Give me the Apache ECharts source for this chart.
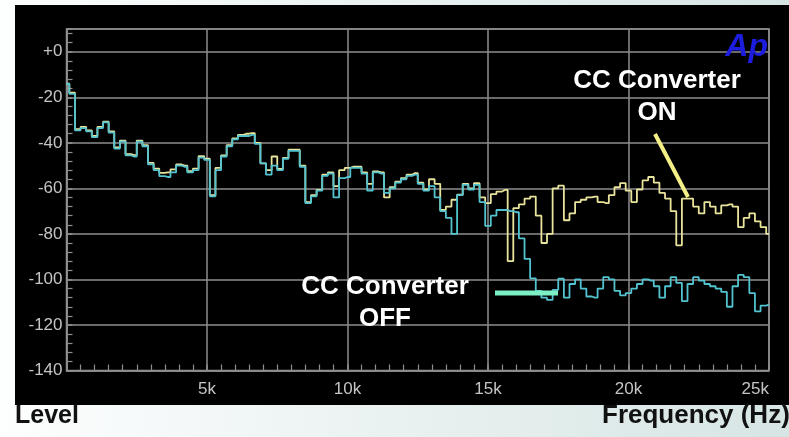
<!DOCTYPE html>
<html><head><meta charset="utf-8">
<script src="https://cdn.jsdelivr.net/npm/echarts@6/dist/echarts.min.js"></script>
<style>html,body{margin:0;padding:0;background:#fff}#c{width:789px;height:437px}</style>
</head><body><div id="c"></div>
<script>
// Frequency (Hz)
const freqs = [
  0,200,400,600,800,1000,1200,1400,1600,1800,
  2000,2200,2400,2600,2800,3000,3200,3400,3600,3800,
  4000,4200,4400,4600,4800,5000,5200,5400,5600,5800,
  6000,6200,6400,6600,6800,7000,7200,7400,7600,7800,
  8000,8200,8400,8600,8800,9000,9200,9400,9600,9800,
  10000,10200,10400,10600,10800,11000,11200,11400,11600,11800,
  12000,12200,12400,12600,12800,13000,13200,13400,13600,13800,
  14000,14200,14400,14600,14800,15000,15200,15400,15600,15800,
  16000,16200,16400,16600,16800,17000,17200,17400,17600,17800,
  18000,18200,18400,18600,18800,19000,19200,19400,19600,19800,
  20000,20200,20400,20600,20800,21000,21200,21400,21600,21800,
  22000,22200,22400,22600,22800,23000,23200,23400,23600,23800,
  24000,24200,24400,24600,24800,25000
];
// Level (dB) with CC Converter ON (yellow)
const levelOn = [
  -14,-18,-34,-33,-34.5,-37,-33,-30.7,-35,-42,
  -39,-45,-45.4,-39,-41,-48.8,-51.3,-53.2,-53,-51.7,
  -49.5,-50,-52.4,-51.3,-45.8,-47,-63,-51,-45.5,-41,
  -38,-36.5,-36,-35.7,-40,-49,-52,-46,-51.5,-46.6,
  -43,-43,-50,-66,-63,-60.7,-54,-53,-59,-52,
  -51,-50.5,-50.5,-53,-58,-52.6,-53,-64,-59.5,-57,
  -55.5,-54,-53.3,-57.5,-60.5,-56,-58,-69.5,-68,-65,
  -62.8,-58,-60,-57.7,-64,-66.5,-62.5,-61.4,-60.7,-92,
  -68.7,-67,-64.5,-63.6,-72,-84,-80,-60,-58.8,-74,
  -71,-66,-65,-64,-63.6,-66,-66.5,-63,-59.5,-57.7,
  -61,-66,-60.5,-56.5,-55,-57.5,-62,-64.5,-70,-85,
  -64.5,-64.5,-68,-71,-66,-68,-71,-67.5,-67,-68,
  -77,-73,-71,-74.5,-77,-80
];
// Level (dB) with CC Converter OFF (cyan)
const levelOff = [
  -14,-18.5,-34.5,-33.5,-35,-37.5,-33.5,-31,-35.5,-42.5,
  -39.5,-45.5,-46,-39.5,-41.5,-49.5,-52,-54.6,-55,-53,
  -50,-50.5,-53,-52,-46.5,-47.5,-63.5,-52,-46,-41.5,
  -38.5,-37,-37,-36.5,-40.5,-49,-54,-50,-52,-47,
  -43.5,-43.5,-50.5,-66.5,-63.5,-61,-54.5,-53.5,-64,-55.5,
  -55,-51,-51,-53.5,-61,-53,-53.5,-62,-60,-57.5,
  -56,-54.5,-54,-58,-61,-59,-64,-70,-73,-80,
  -63,-58.5,-60.5,-58.5,-66,-76.5,-72,-69.5,-69.5,-70,
  -70.5,-82,-91,-99.5,-105,-108,-109,-104.6,-99.7,-108,
  -102,-100,-104,-107.5,-108,-104,-99,-100,-105,-107,
  -106,-104,-102,-100,-100.5,-103,-108,-103,-99,-101.5,
  -109.5,-102,-99,-100.5,-102,-103,-104,-105.5,-112,-103,
  -98,-99,-106,-114,-111.5,-111
];
const xTickValues = [5000,10000,15000,20000,25000];
const xTickLabels = ['5k','10k','15k','20k','25k'];
const yTickValues = [0,-20,-40,-60,-80,-100,-120,-140];
const yTickLabels = ['+0','-20','-40','-60','-80','-100','-120','-140'];

const chart = echarts.init(document.getElementById('c'), null, {renderer:'canvas'});
const gridCol = '#8e8e8e';
const labelStyle = {color:'#c4c4c4', fontFamily:'Liberation Sans, Arial, sans-serif', fontSize:17};
chart.setOption({
  animation:false,
  backgroundColor:{type:'linear',x:0,y:0,x2:1,y2:0,colorStops:[{offset:0,color:'#fdfefe'},{offset:1,color:'#d6e5e4'}]},
  grid:{left:66.5,right:20,top:29,bottom:66.5,show:true,borderColor:gridCol,borderWidth:1.5,backgroundColor:'transparent'},
  xAxis:{type:'value',min:0,max:25000,interval:5000,
    axisLine:{show:true,onZero:false,lineStyle:{color:gridCol,width:1.5}},
    axisTick:{show:true,inside:true,length:6,lineStyle:{color:gridCol,width:1.5}},
    minorTick:{show:true,splitNumber:10,length:6,lineStyle:{color:gridCol,width:1.2}},
    splitLine:{show:true,lineStyle:{color:gridCol,width:1.5}},
    axisLabel:Object.assign({margin:10,alignMaxLabel:'right',formatter:v=>{const i=xTickValues.indexOf(v);return i<0?'':xTickLabels[i];}},labelStyle)
  },
  yAxis:{type:'value',min:-140,max:10,interval:20,
    axisLine:{show:true,onZero:false,lineStyle:{color:gridCol,width:1.5}},
    axisTick:{show:true,inside:true,length:6,lineStyle:{color:gridCol,width:1.5}},
    minorTick:{show:true,splitNumber:5,length:6,lineStyle:{color:gridCol,width:1.2}},
    splitLine:{show:true,lineStyle:{color:gridCol,width:1.5}},
    axisLabel:Object.assign({margin:4,formatter:v=>{const i=yTickValues.indexOf(v);return i<0?'':yTickLabels[i];}},labelStyle)
  },
  series:[
    {name:'CC Converter ON',type:'line',step:'middle',showSymbol:false,symbol:'none',
     data:freqs.map((f,i)=>[f,levelOn[i]]),lineStyle:{color:'#e9e49c',width:1.8},z:3},
    {name:'CC Converter OFF',type:'line',step:'middle',showSymbol:false,symbol:'none',
     data:freqs.map((f,i)=>[f,levelOff[i]]),lineStyle:{color:'#52c3cf',width:1.8},z:4}
  ],
  graphic:[
    {type:'rect',z:-10,shape:{x:15,y:5,width:774,height:400},style:{fill:'#000'}},
    {type:'text',z:50,style:{text:'Ap',x:768,y:31,textAlign:'right',textVerticalAlign:'top',font:'italic bold 32px Liberation Sans, Arial, sans-serif',fill:'#1d1de0'}},
    {type:'text',z:50,style:{text:'CC Converter\nON',x:657,y:97,textAlign:'center',textVerticalAlign:'middle',lineHeight:32,font:'bold 26px Liberation Sans, Arial, sans-serif',fill:'#ffffff'}},
    {type:'line',z:50,shape:{x1:655,y1:134,x2:688,y2:197},style:{stroke:'#f4ef86',lineWidth:4}},
    {type:'text',z:50,style:{text:'CC Converter\nOFF',x:385,y:303,textAlign:'center',textVerticalAlign:'middle',lineHeight:32,font:'bold 26px Liberation Sans, Arial, sans-serif',fill:'#ffffff'}},
    {type:'line',z:50,shape:{x1:495,y1:293,x2:558,y2:293},style:{stroke:'#7cf0c4',lineWidth:5}},
    {type:'text',z:50,style:{text:'Level',x:15,y:429,textAlign:'left',textVerticalAlign:'bottom',font:'bold 25px Liberation Sans, Arial, sans-serif',fill:'#111'}},
    {type:'text',z:50,style:{text:'Frequency (Hz)',x:602,y:429,textAlign:'left',textVerticalAlign:'bottom',font:'bold 26px Liberation Sans, Arial, sans-serif',fill:'#111'}}
  ]
});
</script></body></html>
